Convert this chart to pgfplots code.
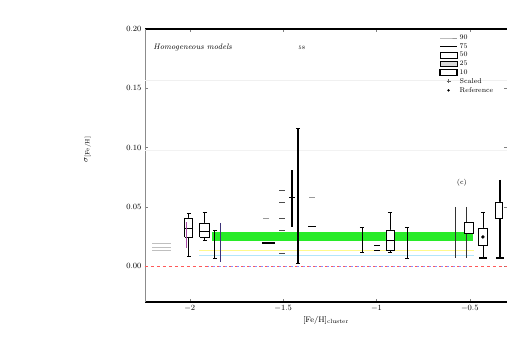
\documentclass[border=0pt]{standalone}
\usepackage{pgfplots}
\pgfplotsset{compat=1.18}
\definecolor{band}{RGB}{40,235,40}
\definecolor{navyish}{RGB}{60,50,120}
\pgfplotsset{
  whisk/.style={black, thick, forget plot, mark=none, error bars/.cd, y dir=both, y explicit,
    error mark=-, error bar style={black, thick}},
  boxed/.style={black, thick, fill=white, forget plot, mark=none},
}
\begin{document}
\begin{tikzpicture}
\useasboundingbox (-145pt,-57pt) rectangle (362pt,302pt);
\begin{axis}[
  at={(0,0)}, anchor=south west,
  scale only axis, width=362pt, height=273pt,
  xmin=-2.24, xmax=-0.301, ymin=-0.0304, ymax=0.2,
  separate axis lines,
  x axis line style={line width=1.4pt},
  y axis line style={black!45, line width=0.5pt},
  xtick={-2,-1.5,-1,-0.5},
  ytick={0,0.05,0.1,0.15,0.2},
  yticklabel style={/pgf/number format/fixed, /pgf/number format/precision=2,
    /pgf/number format/fixed zerofill},
  ticklabel style={font=\footnotesize},
  major tick length=3pt,
  xlabel={[Fe/H]$_{\mathrm{cluster}}$},
  xlabel style={font=\footnotesize, yshift=2pt},
  ylabel={$\sigma_{\mathrm{[Fe/H]}}$},
  ylabel style={font=\footnotesize, at={(axis description cs:-0.14,0.56)}},
  legend style={draw=none, fill=none, font=\scriptsize, at={(axis description cs:0.81,0.99)},
    anchor=north west, row sep=-1.5pt, inner sep=1pt},
  legend cell align=left,
]
% legend keys
\addlegendimage{black!40, line legend}\addlegendentry{90}
\addlegendimage{black, very thick, line legend}\addlegendentry{75}
\addlegendimage{area legend, draw=black, fill=white}\addlegendentry{50}
\addlegendimage{area legend, draw=black, thick, fill=black!15}\addlegendentry{25}
\addlegendimage{area legend, draw=black, very thick, fill=white}\addlegendentry{10}
\addlegendimage{only marks, mark=+, black!60}\addlegendentry{Scaled}
\addlegendimage{only marks, mark=*, mark size=1pt, black}\addlegendentry{Reference}

% faint guide lines
\addplot[black!6, forget plot] coordinates {(-2.24,0.157) (-0.301,0.157)};
\addplot[black!5, forget plot] coordinates {(-2.24,0.098) (-0.301,0.098)};
\addplot[yellow!45, forget plot] coordinates {(-1.95,0.0135) (-0.48,0.0135)};
\addplot[cyan!30, line width=0.8pt, forget plot] coordinates {(-1.95,0.0093) (-0.48,0.0093)};
\addplot[red!65, dashed, forget plot] coordinates {(-2.24,0) (-0.301,0)};
\addplot[blue!45, dash pattern=on 2pt off 4pt, dash phase=1pt, forget plot] coordinates {(-1.9,0) (-0.5,0)};

% reference band
\addplot[band, line width=9pt, forget plot] coordinates {(-1.882,0.0245) (-0.483,0.0245)};

% group at -2.0
\addplot[whisk] coordinates {(-2.005,0.02655) +- (0,0.01815)};
\addplot[boxed] coordinates {(-2.0265,0.0245) (-1.9835,0.0245) (-1.9835,0.0405) (-2.0265,0.0405) (-2.0265,0.0245)};
\addplot[black, thick, forget plot] coordinates {(-2.0265,0.0321) (-1.9835,0.0321)};
\addplot[violet!70, thick, forget plot] coordinates {(-2.02,0.0371) (-2.02,0.0152)};
\addplot[whisk] coordinates {(-1.920,0.03345) +- (0,0.01155)};
\addplot[boxed] coordinates {(-1.947,0.0245) (-1.893,0.0245) (-1.893,0.0363) (-1.947,0.0363) (-1.947,0.0245)};
\addplot[black, thick, forget plot] coordinates {(-1.947,0.0295) (-1.893,0.0295)};
\addplot[whisk] coordinates {(-1.866,0.0186) +- (0,0.0118)};
\addplot[navyish, line width=1.2pt, forget plot] coordinates {(-1.834,0.0363) (-1.834,0.0034)};
\addplot[black!25, forget plot] coordinates {(-2.2,0.0194) (-2.1,0.0194)};
\addplot[black!25, forget plot] coordinates {(-2.2,0.016) (-2.1,0.016)};
\addplot[black!25, forget plot] coordinates {(-2.2,0.0135) (-2.1,0.0135)};

% group at -1.5
\addplot[black, line width=1.6pt, forget plot] coordinates {(-1.614,0.0194) (-1.544,0.0194)};
\addplot[black, line width=1.5pt, forget plot, mark=none, error bars/.cd, y dir=both, y explicit,
  error mark=-, error bar style={black, line width=1.5pt}] coordinates {(-1.421,0.0595) +- (0,0.057)};
\addplot[black, line width=1.3pt, forget plot] coordinates {(-1.453,0.081) (-1.453,0.0329)};
\addplot[black, only marks, mark=-, mark size=3pt, thick, forget plot] coordinates {(-1.453,0.0582)};
\addplot[black!70, only marks, mark=-, mark size=3pt, thick, forget plot] coordinates
  {(-1.507,0.0641) (-1.507,0.054) (-1.507,0.0405) (-1.507,0.0304) (-1.507,0.011)};
\addplot[black, only marks, mark=-, mark size=4pt, thick, forget plot] coordinates {(-1.346,0.0338)};
\addplot[black!40, only marks, mark=-, mark size=3pt, forget plot] coordinates {(-1.346,0.0582) (-1.59,0.0405)};

% group at -1.0
\addplot[whisk] coordinates {(-1.078,0.0224) +- (0,0.0105)};
\addplot[black, only marks, mark=-, mark size=3pt, thick, forget plot] coordinates {(-0.998,0.0177) (-0.998,0.0135)};
\addplot[whisk] coordinates {(-0.928,0.0287) +- (0,0.0169)};
\addplot[boxed] coordinates {(-0.9495,0.0135) (-0.9065,0.0135) (-0.9065,0.0304) (-0.9495,0.0304) (-0.9495,0.0135)};
\addplot[black, thick, forget plot] coordinates {(-0.9495,0.022) (-0.9065,0.022)};
\addplot[whisk] coordinates {(-0.837,0.0198) +- (0,0.013)};

% group at -0.5
\addplot[black!80, line width=1.2pt, forget plot] coordinates {(-0.575,0.0498) (-0.575,0.0068)};
\addplot[black!80, line width=1.2pt, forget plot] coordinates {(-0.516,0.0498) (-0.516,0.0068)};
\addplot[boxed] coordinates {(-0.53,0.0279) (-0.48,0.0279) (-0.48,0.0371) (-0.53,0.0371) (-0.53,0.0279)};
\addplot[whisk] coordinates {(-0.430,0.0262) +- (0,0.0194)};
\addplot[boxed] coordinates {(-0.455,0.0177) (-0.405,0.0177) (-0.405,0.0321) (-0.455,0.0321) (-0.455,0.0177)};
\addplot[black, only marks, mark=*, mark size=1.5pt, forget plot] coordinates {(-0.430,0.0245)};
\addplot[black, only marks, mark=-, mark size=4pt, line width=1.5pt, forget plot] coordinates {(-0.430,0.0068)};
\addplot[black, line width=1.5pt, forget plot] coordinates {(-0.339,0.0726) (-0.339,0.0068)};
\addplot[boxed] coordinates {(-0.364,0.0405) (-0.324,0.0405) (-0.324,0.054) (-0.364,0.054) (-0.364,0.0405)};
\addplot[black, only marks, mark=-, mark size=4pt, line width=1.5pt, forget plot] coordinates {(-0.339,0.0068)};

% annotations
\node[anchor=west, font=\footnotesize\itshape] at (axis cs:-2.214,0.184) {Homogeneous models};
\node[font=\tiny] at (axis cs:-1.4,0.184) {58};
\node[font=\scriptsize] at (axis cs:-0.543,0.070) {(c)};
\end{axis}
\end{tikzpicture}
\end{document}
